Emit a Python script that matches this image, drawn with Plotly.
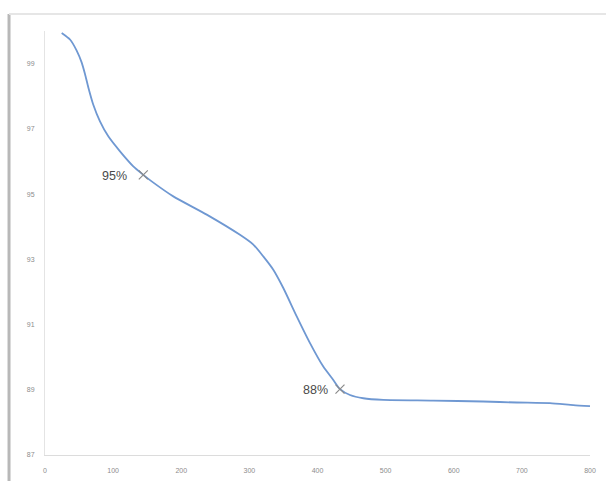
import plotly.graph_objects as go

# Weight curve (temperature vs remaining mass, %)
temperature = [24.5, 36.7, 46.5, 53.9, 58.7, 63.6, 70.9, 80.7, 92.9, 110.1, 129.6, 144.3,
               156.6, 188.3, 237.4, 286.2, 305.8, 320.4, 335.1, 349.8, 369.5, 389, 408.5,
               423.2, 433, 447.7, 467.2, 496.6, 569.5, 643, 692.4, 741.3, 775.5, 800]
mass = [99.94, 99.74, 99.40, 99.03, 98.68, 98.27, 97.74, 97.23, 96.77, 96.31, 95.85, 95.59,
        95.39, 94.93, 94.37, 93.75, 93.45, 93.09, 92.68, 92.12, 91.25, 90.43, 89.71,
        89.30, 89.02, 88.84, 88.74, 88.69, 88.67, 88.64, 88.61, 88.59, 88.53, 88.50]

# Marked points and their labels
mark_temp = [144.3, 433]
mark_mass = [95.59, 89.02]
mark_text = ["95%", "88%"]

x_ticks = [0, 100, 200, 300, 400, 500, 600, 700, 800]
y_ticks = [87, 89, 91, 93, 95, 97, 99]

fig = go.Figure()
fig.add_trace(go.Scatter(
    x=temperature, y=mass, mode="lines",
    line=dict(color="#6f98d2", width=1.8, shape="spline", smoothing=0.6),
    hoverinfo="skip", showlegend=False,
))
fig.add_trace(go.Scatter(
    x=mark_temp, y=mark_mass, mode="markers",
    marker=dict(symbol="x-thin", size=9, line=dict(color="#8a8a8a", width=1.2)),
    showlegend=False,
))
for xv, yv, t, dx in zip(mark_temp, mark_mass, mark_text, (-14, -10)):
    fig.add_annotation(x=xv, y=yv, text=t, showarrow=False, xanchor="right",
                       xshift=dx, yshift=-1,
                       font=dict(family="Liberation Sans", size=12.5, color="#4a4a4a"))

# Outer chart frame (left edge and top edge)
fig.add_shape(type="line", xref="paper", yref="paper", x0=-0.066, x1=-0.066, y0=1.04, y1=-0.07,
              line=dict(color="#b8b8b8", width=3))
fig.add_shape(type="line", xref="paper", yref="paper", x0=-0.066, x1=1.04, y0=1.04, y1=1.04,
              line=dict(color="#e6e6e6", width=2))

fig.update_layout(
    width=606, height=481,
    margin=dict(l=45, r=16, t=31, b=26, autoexpand=False),
    paper_bgcolor="white", plot_bgcolor="white",
    font=dict(family="Liberation Sans", size=7, color="#8c8c8c"),
)
fig.update_xaxes(range=[0, 800], tickvals=x_ticks, showgrid=False, zeroline=False,
                 showline=True, linecolor="#dcdcdc", linewidth=1, ticks="",
                 ticklabelstandoff=9, automargin=False)
fig.update_yaxes(range=[87, 100], tickvals=y_ticks, showgrid=False, zeroline=False,
                 showline=True, linecolor="#e4e4e4", linewidth=1, ticks="",
                 ticklabelstandoff=8, automargin=False)

fig.write_html("out.html")
